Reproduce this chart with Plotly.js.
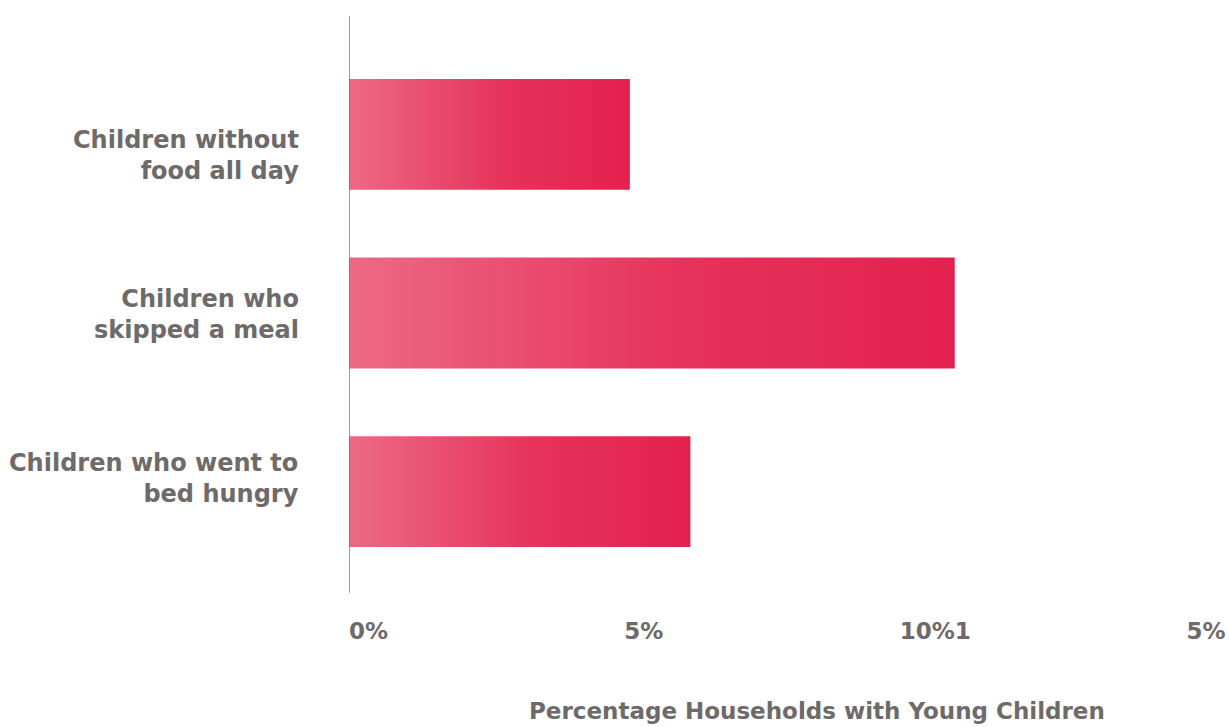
<!DOCTYPE html>
<html>
<head>
<meta charset="utf-8">
<script src="https://cdn.plot.ly/plotly-3.0.1.min.js"></script>
<style>
  html, body { margin: 0; padding: 0; background: #ffffff; }
  #chart { width: 1229px; height: 727px; }
</style>
</head>
<body>
<div id="chart"></div>
<script>
// Food insecurity among households with young children
const categories = [
  "Children without<br>food all day",
  "Children who<br>skipped a meal",
  "Children who went to<br>bed hungry"
];
const percentValues = [5.1, 11.0, 6.2];
const tickValues = [0, 5, 10, 15];
const tickLabels = ["0%", "5%", "10%1", "\u20025%"];
const labelShifts = [-21, -1, 13];

const gray = "#6e6a6a";
const fontFamily = "'DejaVu Sans', 'Noto Sans', sans-serif";

const trace = {
  type: "bar",
  orientation: "h",
  x: percentValues,
  y: categories,
  marker: { color: "#e6325c", line: { width: 0 } },
  hoverinfo: "x+y",
  showlegend: false
};

const labelAnnotations = categories.map((c, i) => ({
  xref: "paper", yref: "y",
  x: 0, y: c,
  xanchor: "right", yanchor: "middle",
  xshift: -48, yshift: labelShifts[i],
  align: "right",
  text: c,
  showarrow: false,
  font: { family: fontFamily, size: 24, color: gray, weight: 700 }
}));

const layout = {
  width: 1229,
  height: 727,
  margin: { l: 349, r: 54, t: 45, b: 146 },
  paper_bgcolor: "#ffffff",
  plot_bgcolor: "#ffffff",
  bargap: 0.38,
  font: { family: fontFamily, color: gray },
  xaxis: {
    range: [0, 15],
    tickvals: tickValues,
    ticktext: tickLabels,
    ticklabelposition: "outside right",
    ticklabelstandoff: 34,
    showgrid: false,
    zeroline: false,
    showline: false,
    ticks: "",
    ticklen: 0,
    tickfont: { family: fontFamily, size: 23, color: gray, weight: 700 },
    fixedrange: true
  },
  yaxis: {
    type: "category",
    autorange: "reversed",
    showticklabels: false,
    showgrid: false,
    zeroline: false,
    showline: false,
    ticks: "",
    fixedrange: true
  },
  shapes: [{
    type: "line",
    xref: "x", yref: "paper",
    x0: 0, x1: 0, y0: -0.022, y1: 1.054,
    line: { color: "#7a7a7a", width: 1.5 }
  }],
  annotations: labelAnnotations.concat([{
    xref: "paper", yref: "paper",
    x: 0.567, y: -0.243,
    xanchor: "center", yanchor: "middle",
    text: "Percentage Households with Young Children",
    showarrow: false,
    font: { family: fontFamily, size: 23, color: gray, weight: 700 }
  }])
};

Plotly.newPlot("chart", [trace], layout, { displayModeBar: false, staticPlot: true }).then(gd => {
  // Left-to-right pink gradient on every bar
  const svg = gd.querySelector("svg.main-svg");
  const ns = "http://www.w3.org/2000/svg";
  let defs = svg.querySelector("defs");
  if (!defs) { defs = document.createElementNS(ns, "defs"); svg.insertBefore(defs, svg.firstChild); }
  const grad = document.createElementNS(ns, "linearGradient");
  grad.setAttribute("id", "barGradient");
  grad.setAttribute("x1", "0"); grad.setAttribute("y1", "0");
  grad.setAttribute("x2", "1"); grad.setAttribute("y2", "0");
  [["0", "#ec6a84"], ["0.55", "#e6325c"], ["1", "#e3214f"]].forEach(([o, c]) => {
    const s = document.createElementNS(ns, "stop");
    s.setAttribute("offset", o);
    s.setAttribute("stop-color", c);
    grad.appendChild(s);
  });
  defs.appendChild(grad);
  gd.querySelectorAll(".bars .point path").forEach(p => { p.style.fill = "url(#barGradient)"; });
});
</script>
</body>
</html>
